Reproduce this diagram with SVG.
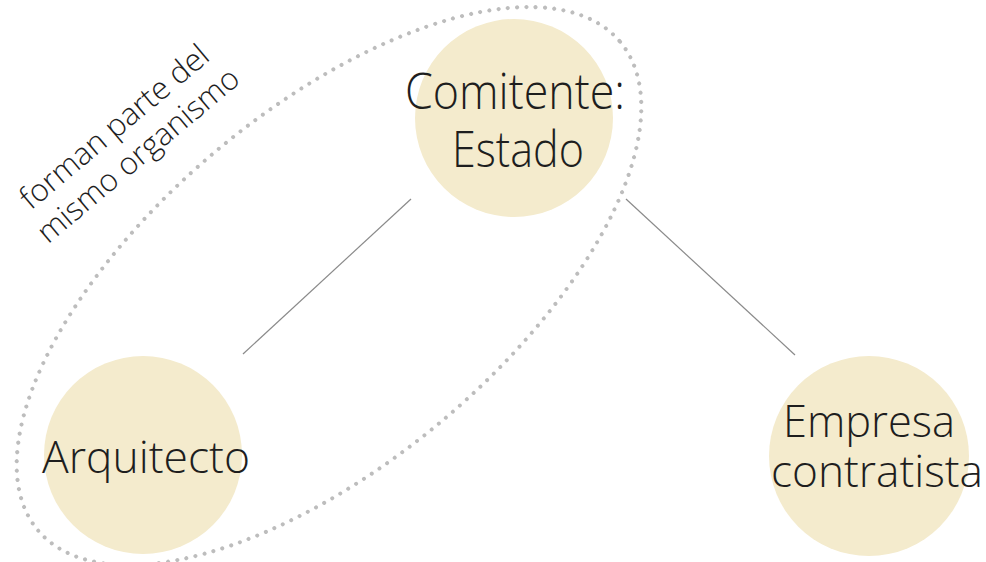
<svg xmlns="http://www.w3.org/2000/svg" width="986" height="562" viewBox="0 0 986 562">
<style>
.node{fill:#f4ebcd;}
.lbl{font-family:"Open Sans","Noto Sans","Liberation Sans",sans-serif;font-weight:300;fill:#1e1e1e;}
.conn{stroke:#8a8a8a;stroke-width:1.2;fill:none;}
.group{fill:none;stroke:#bdbdbd;stroke-width:4;stroke-linecap:round;stroke-dasharray:0 9.3;}
</style>
<rect width="986" height="562" fill="#ffffff"/>
<g id="grupo-organismo">
<ellipse class="group" cx="329" cy="286" rx="380" ry="176" transform="rotate(-40 329 286)"/>
<g transform="translate(133,149) rotate(-40)">
<text class="lbl" x="0" y="-18.5" font-size="31" text-anchor="middle" textLength="236" lengthAdjust="spacingAndGlyphs">forman parte del</text>
<text class="lbl" x="0" y="18.5" font-size="31" text-anchor="middle" textLength="253" lengthAdjust="spacingAndGlyphs">mismo organismo</text>
</g>
</g>
<g id="connectors">
<line class="conn" x1="411" y1="199" x2="243" y2="354"/>
<line class="conn" x1="626" y1="199" x2="795" y2="355"/>
</g>
<g id="comitente">
<circle class="node" cx="514" cy="118" r="99"/>
<text class="lbl" x="405" y="109" font-size="49" textLength="220" lengthAdjust="spacingAndGlyphs">Comitente:</text>
<text class="lbl" x="452" y="167" font-size="49" textLength="132" lengthAdjust="spacingAndGlyphs">Estado</text>
</g>
<g id="arquitecto">
<circle class="node" cx="143" cy="455" r="99"/>
<text class="lbl" x="42" y="473" font-size="45" textLength="208" lengthAdjust="spacingAndGlyphs">Arquitecto</text>
</g>
<g id="empresa">
<circle class="node" cx="869" cy="456" r="100"/>
<text class="lbl" x="783" y="437" font-size="45" textLength="172" lengthAdjust="spacingAndGlyphs">Empresa</text>
<text class="lbl" x="771" y="487" font-size="45" textLength="212" lengthAdjust="spacingAndGlyphs">contratista</text>
</g>
</svg>
